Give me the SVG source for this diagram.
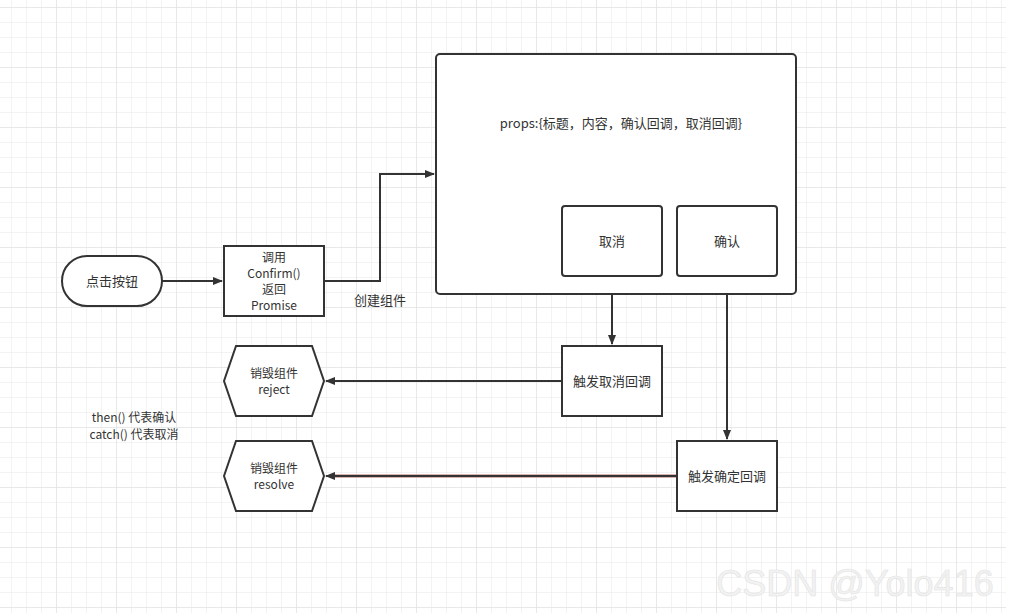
<svg xmlns="http://www.w3.org/2000/svg" width="1014" height="616" viewBox="0 0 1014 616">
<defs>
<pattern id="g" x="11" y="7" width="15" height="15" patternUnits="userSpaceOnUse"><path d="M0 0H15M0 0V15" stroke="#e8e8e8" stroke-width="1" fill="none"/></pattern>
<pattern id="G" x="56" y="7" width="60" height="60" patternUnits="userSpaceOnUse"><path d="M0 0H60M0 0V60" stroke="#dedede" stroke-width="1" fill="none"/></pattern>
<marker id="a" markerWidth="10" markerHeight="8" refX="9" refY="4" orient="auto" markerUnits="userSpaceOnUse"><path d="M0 0L10 4L0 8z" fill="#333"/></marker>
<style>
.n{fill:#fff;stroke:#333;stroke-width:2}
.t{font-family:"Noto Sans CJK SC","Liberation Sans",sans-serif;font-size:13px;fill:#333;text-anchor:middle}
.s{font-size:12px}
.c{fill:none;stroke:#333;stroke-width:2}
</style>
</defs>
<rect width="1014" height="616" fill="#fff"/>
<rect width="1006" height="613" fill="url(#g)"/>
<rect width="1006" height="613" fill="url(#G)"/>
<g id="connectors">
<path class="c" d="M162 281H222" marker-end="url(#a)"/>
<path class="c" d="M324 281H380V174H434" marker-end="url(#a)"/>
<path class="c" d="M612 276V344" marker-end="url(#a)"/>
<path class="c" d="M727 276V439" marker-end="url(#a)"/>
<path class="c" d="M562 381H326" marker-end="url(#a)"/>
<path d="M677 476H334" stroke="#d8b0b0" stroke-width="4" fill="none"/>
<path class="c" d="M677 476H326" marker-end="url(#a)"/>
<text class="t" x="380" y="305">创建组件</text>
</g>
<g id="start"><rect class="n" x="62" y="256" width="100" height="50" rx="25"/><text class="t" x="112" y="286">点击按钮</text></g>
<g id="call"><rect class="n" x="224" y="246" width="100" height="70"/><text class="t s" x="274" y="262">调用</text><text class="t s" x="274" y="278">Confirm()</text><text class="t s" x="274" y="294">返回</text><text class="t s" x="274" y="310">Promise</text></g>
<g id="comp"><rect class="n" x="436" y="54" width="360" height="240" rx="4"/><text class="t" x="621" y="128">props:{标题，内容，确认回调，取消回调}</text></g>
<g id="cancel"><rect class="n" x="562" y="206" width="100" height="70" rx="3"/><text class="t" x="612" y="246">取消</text></g>
<g id="ok"><rect class="n" x="677" y="206" width="100" height="70" rx="3"/><text class="t" x="727" y="246">确认</text></g>
<g id="cancelcb"><rect class="n" x="562" y="346" width="100" height="70"/><text class="t" x="612" y="386">触发取消回调</text></g>
<g id="okcb"><rect class="n" x="677" y="441" width="100" height="70"/><text class="t" x="727" y="481">触发确定回调</text></g>
<g id="reject"><path class="n" d="M236 346H312L324 381L312 416H236L224 381Z"/><text class="t s" x="274" y="378">销毁组件</text><text class="t s" x="274" y="394">reject</text></g>
<g id="resolve"><path class="n" d="M236 441H312L324 476L312 511H236L224 476Z"/><text class="t s" x="274" y="473">销毁组件</text><text class="t s" x="274" y="489">resolve</text></g>
<g id="note"><text class="t s" x="134" y="422">then() 代表确认</text><text class="t s" x="134" y="439">catch() 代表取消</text></g>
<text x="855" y="596" font-family="Liberation Sans,sans-serif" font-size="36" fill="#f2f2f2" stroke="#e4e4e4" stroke-width="0.6" text-anchor="middle">CSDN @Yolo416</text>
</svg>
